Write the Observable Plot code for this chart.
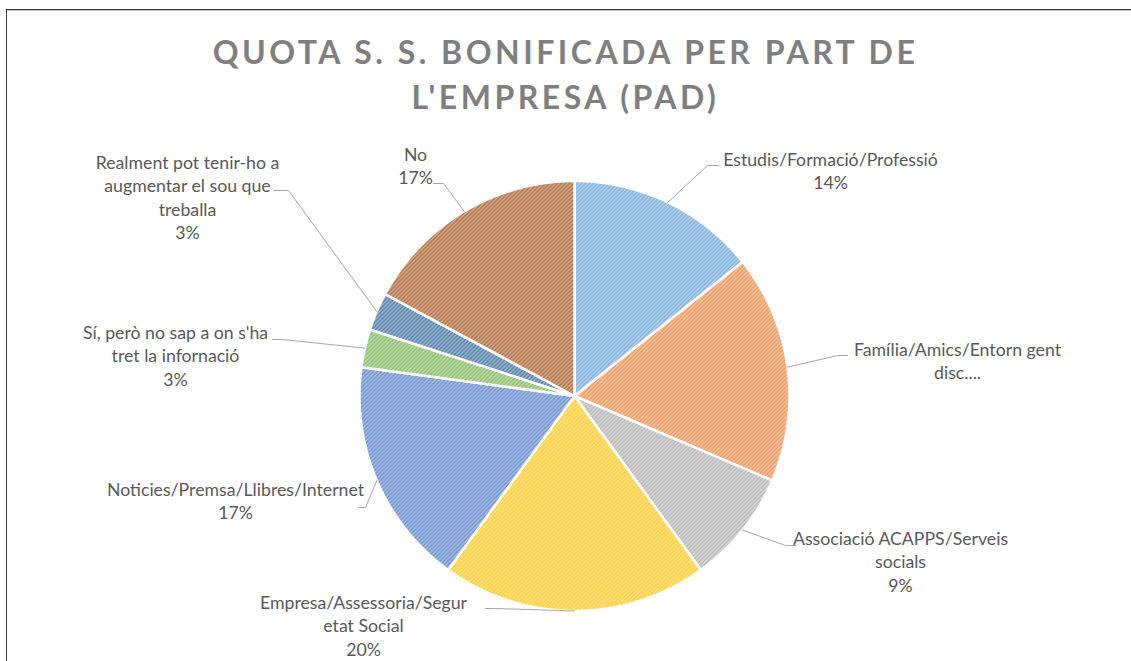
<!DOCTYPE html>
<html>
<head>
<meta charset="utf-8">
<script src="https://cdn.jsdelivr.net/npm/d3@7"></script>
<script src="https://cdn.jsdelivr.net/npm/@observablehq/plot@0.6"></script>
<style>
  html, body { margin: 0; padding: 0; background: #fff; }
  #wrap { position: relative; width: 1131px; height: 661px; overflow: hidden; background: #fff; }
  #frame { position: absolute; left: 6px; top: 9px; width: 1140px; height: 700px;
           border-top: 1.5px solid #3c3c3c; border-left: 1.5px solid #3c3c3c;
           box-shadow: inset 0 1px 0 #bdbdbd; }
  #title { position: absolute; left: 0; top: 29px; width: 1131px; text-align: center;
           font-family: Lato, sans-serif; font-weight: bold; font-size: 32px; line-height: 45px;
           letter-spacing: 3.5px; color: #7f7f7f; }
  #chart { position: absolute; left: 0; top: 0; }
</style>
</head>
<body>
<div id="wrap">
  <svg width="0" height="0" style="position:absolute" id="defs"></svg>
  <div id="frame"></div>
  <div id="chart"></div>
  <div id="title">QUOTA S. S. BONIFICADA PER PART DE<br>L'EMPRESA (PAD)</div>
</div>
<script>
// ---- data ----
const categories = [
  "Estudis/Formació/Professió",
  "Família/Amics/Entorn gent disc....",
  "Associació ACAPPS/Serveis socials",
  "Empresa/Assessoria/Seguretat Social",
  "Noticies/Premsa/Llibres/Internet",
  "Sí, però no sap a on s'ha tret la infornació",
  "Realment pot tenir-ho a augmentar el sou que treballa",
  "No"
];
const counts = [5, 6, 3, 7, 6, 1, 1, 6];
const showPercent = [true, false, true, true, true, true, true, true];
// label text as wrapped in the picture
const labelLines = [
  ["Estudis/Formació/Professió"],
  ["Família/Amics/Entorn gent", "disc...."],
  ["Associació ACAPPS/Serveis", "socials"],
  ["Empresa/Assessoria/Segur", "etat Social"],
  ["Noticies/Premsa/Llibres/Internet"],
  ["Sí, però no sap a on s'ha", "tret la infornació"],
  ["Realment pot tenir-ho a", "augmentar el sou que", "treballa"],
  ["No"]
];
const baseColors = ["#5B9BD5", "#ED7D31", "#A5A5A5", "#FFC000", "#4472C4", "#70AD47", "#255E91", "#9E480E"];

// ---- layout (pixels) ----
const W = 1131, H = 661;
const cx = 574, cy = 395.5, R = 215;
const lineH = 23.3;
const labelAnchor = [[830,160],[957,350],[900,539],[363,603],[235,490],[175,333],[187,163],[415,155]];
const leaderEnd   = [[718,165],[847,355],[795,545],[485,608],[358,507],[272,339],[273,190],[433,183]];
const leaderElbow = [[707,165],[837,355],[785,545],[495,608],[365,507],[282,339],[288,190],[443,183]];

// ---- patterns ----
const defs = document.getElementById("defs");
let defsHtml = "<defs>";
baseColors.forEach((c, i) => {
  const light = d3.interpolateRgb(c, "#ffffff")(0.68);
  defsHtml += `<pattern id="pat${i}" width="4" height="4" patternUnits="userSpaceOnUse">
    <rect width="4" height="4" fill="${light}"/>
    <path d="M-1,1 L1,-1 M0,4 L4,0 M3,5 L5,3" stroke="${c}" stroke-width="1.3" stroke-opacity="0.9"/>
  </pattern>`;
});
defsHtml += "</defs>";
defs.innerHTML = defsHtml;

// ---- geometry from data ----
const total = d3.sum(counts);
const arcs = d3.pie().sort(null).value(d => d)(counts);
const pt = (a, r) => ({x: cx + r * Math.sin(a), y: cy - r * Math.cos(a)});

const slices = arcs.map((a, i) => {
  const pts = [{x: cx, y: cy}];
  const n = Math.max(8, Math.ceil((a.endAngle - a.startAngle) / 0.005));
  for (let k = 0; k <= n; k++) {
    pts.push(pt(a.startAngle + (a.endAngle - a.startAngle) * k / n, R));
  }
  pts.push({x: cx, y: cy});
  return pts;
});

const leaders = [];
arcs.forEach((a, i) => {
  const mid = (a.startAngle + a.endAngle) / 2;
  const s = pt(mid, R);
  leaders.push({i, x: s.x, y: s.y});
  leaders.push({i, x: leaderElbow[i][0], y: leaderElbow[i][1]});
  leaders.push({i, x: leaderEnd[i][0], y: leaderEnd[i][1]});
});

const texts = [];
labelLines.forEach((lines, i) => {
  const all = showPercent[i] ? [...lines, Math.round(counts[i] / total * 100) + "%"] : lines;
  all.forEach((t, k) => texts.push({text: t, x: labelAnchor[i][0], y: labelAnchor[i][1] + k * lineH}));
});

const chart = Plot.plot({
  width: W, height: H,
  margin: 0,
  x: {domain: [0, W], range: [0, W], axis: null},
  y: {domain: [0, H], range: [0, H], axis: null},
  style: {background: "transparent", fontFamily: "Lato, sans-serif"},
  marks: [
    ...slices.map((pts, i) => Plot.line(pts, {
      x: "x", y: "y", fill: `url(#pat${i})`, stroke: "white", strokeWidth: 2.5, strokeLinejoin: "round"
    })),
    Plot.line(leaders, {x: "x", y: "y", z: "i", stroke: "#a6a6a6", strokeWidth: 1}),
    Plot.text(texts, {x: "x", y: "y", text: "text", fill: "#595959", fontSize: 17.7, textAnchor: "middle", lineAnchor: "middle"})
  ]
});
document.getElementById("chart").appendChild(chart);
</script>
</body>
</html>
